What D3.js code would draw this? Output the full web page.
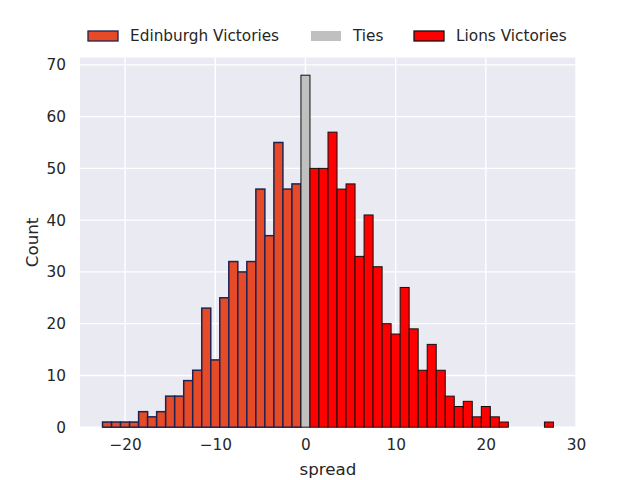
<!DOCTYPE html>
<html>
  <head>
    <meta charset="utf-8">
    <title>Spread histogram</title>
    <style>
      body { margin: 0; background: white; }
      svg { display: block; font-family: "DejaVu Sans", sans-serif; }
    </style>
    <script src="https://d3js.org/d3.v7.min.js"></script>
  </head>
  <body>
    <svg></svg>
    <script>
      // histogram bins (spread value) and counts
      var edinSpread = [-22, -21, -20, -19, -18, -17, -16, -15, -14, -13, -12, -11, -10, -9, -8, -7, -6, -5, -4, -3, -2, -1];
      var edinCounts = [1, 1, 1, 1, 3, 2, 3, 6, 6, 9, 11, 23, 13, 25, 32, 30, 32, 46, 37, 55, 46, 47];
      var tieSpread = [0];
      var tieCounts = [68];
      var lionsSpread = [1, 2, 3, 4, 5, 6, 7, 8, 9, 10, 11, 12, 13, 14, 15, 16, 17, 18, 19, 20, 21, 22, 27];
      var lionsCounts = [50, 50, 57, 46, 47, 33, 41, 31, 20, 18, 27, 19, 11, 16, 11, 6, 4, 5, 2, 4, 2, 1, 1];

      var xTicks = [-20, -10, 0, 10, 20, 30];
      var yTicks = [0, 10, 20, 30, 40, 50, 60, 70];
      var legendLabels = ["Edinburgh Victories", "Ties", "Lions Victories"];

      var width = 640, height = 480;
      var plotLeft = 80, plotRight = 576, plotTop = 57.6, plotBottom = 427.2;
      var ink = "#262626";

      var svg = d3.select("svg").attr("width", width).attr("height", height);

      var x = d3.scaleLinear().domain([-25, 30]).range([plotLeft, plotRight]);
      var y = d3.scaleLinear().domain([0, 71.4]).range([plotBottom, plotTop]);

      svg.append("rect")
        .attr("x", plotLeft).attr("y", plotTop)
        .attr("width", plotRight - plotLeft).attr("height", plotBottom - plotTop)
        .attr("fill", "#eaeaf2");

      // grid
      var grid = svg.append("g").attr("stroke", "white").attr("stroke-width", 1.4);
      grid.selectAll(".gx").data(xTicks).enter().append("line")
        .attr("x1", d => x(d)).attr("x2", d => x(d))
        .attr("y1", plotTop).attr("y2", plotBottom);
      grid.selectAll(".gy").data(yTicks).enter().append("line")
        .attr("y1", d => y(d)).attr("y2", d => y(d))
        .attr("x1", plotLeft).attr("x2", plotRight);

      function bars(spread, counts, fill, stroke, sw) {
        var data = spread.map((s, i) => ({s: s, c: counts[i]}));
        svg.append("g").selectAll("rect").data(data).enter().append("rect")
          .attr("x", d => x(d.s - 0.5))
          .attr("width", d => x(d.s + 0.5) - x(d.s - 0.5))
          .attr("y", d => y(d.c))
          .attr("height", d => y(0) - y(d.c))
          .attr("fill", fill)
          .attr("stroke", stroke)
          .attr("stroke-width", sw);
      }
      bars(edinSpread, edinCounts, "#e64a26", "#1e2452", 1.5);
      bars(tieSpread, tieCounts, "#c0c0c0", "#111", 1);
      bars(lionsSpread, lionsCounts, "#ff0000", "#111", 1);

      // axes (no lines, just labels)
      var xAxis = d3.axisBottom(x).tickValues(xTicks).tickSize(0).tickPadding(12)
        .tickFormat(d => d < 0 ? "\u2212" + Math.abs(d) : d);
      var gx = svg.append("g").attr("transform", "translate(0," + plotBottom + ")").call(xAxis);
      gx.select(".domain").remove();
      gx.selectAll("text").attr("fill", ink).attr("font-size", 15.3).attr("font-family", "DejaVu Sans");

      var yAxis = d3.axisLeft(y).tickValues(yTicks).tickSize(0).tickPadding(14);
      var gy = svg.append("g").attr("transform", "translate(" + plotLeft + ",0)").call(yAxis);
      gy.select(".domain").remove();
      gy.selectAll("text").attr("fill", ink).attr("font-size", 15.3).attr("font-family", "DejaVu Sans");

      svg.append("text")
        .attr("x", (plotLeft + plotRight) / 2).attr("y", 475)
        .attr("text-anchor", "middle").attr("fill", ink).attr("font-size", 16.7)
        .text("spread");
      svg.append("text")
        .attr("transform", "translate(38," + (plotTop + plotBottom) / 2 + ") rotate(-90)")
        .attr("text-anchor", "middle").attr("fill", ink).attr("font-size", 16.7)
        .text("Count");

      // legend above the axes
      var legendItems = [
        {label: legendLabels[0], fill: "#e64a26", stroke: "#1e2452", x: 88},
        {label: legendLabels[1], fill: "#c0c0c0", stroke: "none", x: 311},
        {label: legendLabels[2], fill: "#ff0000", stroke: "#111", x: 414}
      ];
      var lg = svg.append("g").selectAll("g").data(legendItems).enter().append("g")
        .attr("transform", d => "translate(" + d.x + ",31)");
      lg.append("rect")
        .attr("width", 30).attr("height", 10)
        .attr("fill", d => d.fill)
        .attr("stroke", d => d.stroke)
        .attr("stroke-width", 1.3);
      lg.append("text")
        .attr("x", 42).attr("y", 10)
        .attr("fill", ink).attr("font-size", 15.3)
        .text(d => d.label);
    </script>
  </body>
</html>
